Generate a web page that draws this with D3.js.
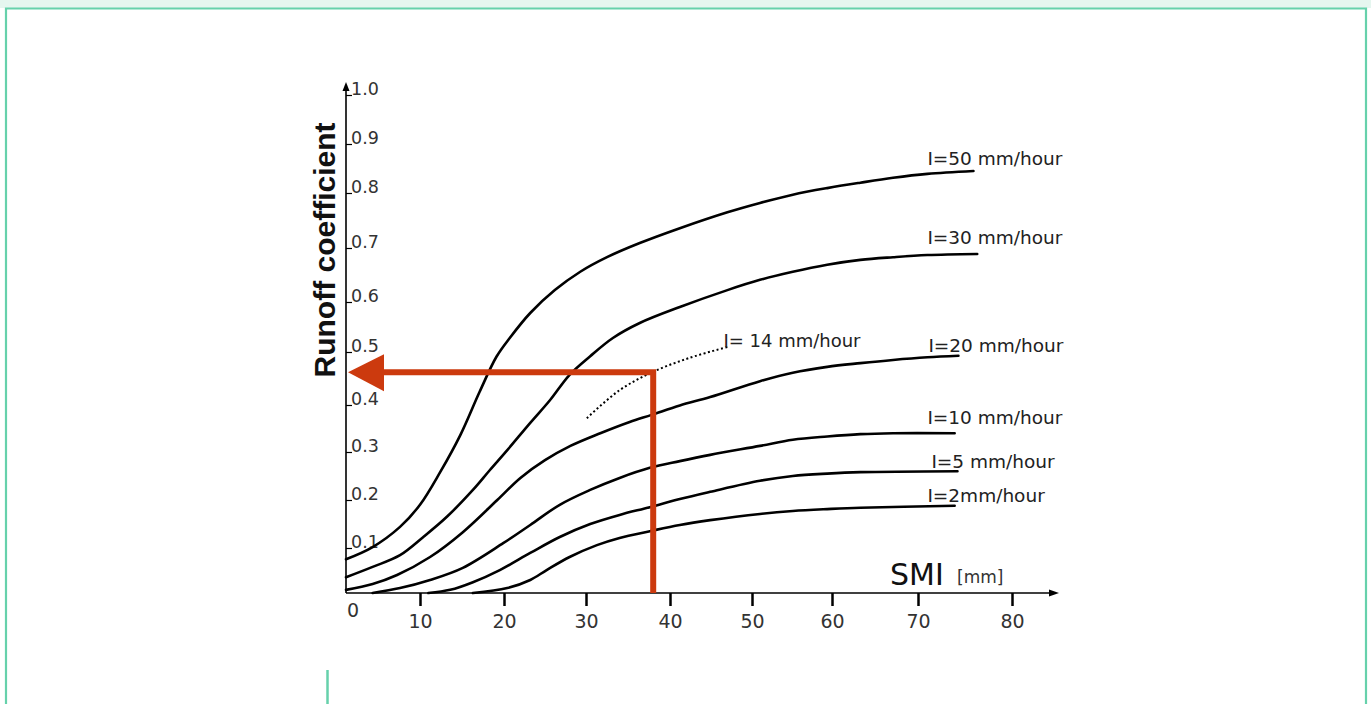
<!DOCTYPE html>
<html><head><meta charset="utf-8">
<script src="https://cdn.jsdelivr.net/npm/d3@7"></script>
<style>
html,body{margin:0;padding:0;background:#fff;overflow:hidden;}
svg{display:block;}
</style></head><body>
<svg id="chart" width="1371" height="704"></svg>
<script>
// ---------------- DATA ----------------
const xTickValues = [0, 10, 20, 30, 40, 50, 60, 70, 80];
const xTickLabels = ["0", "10", "20", "30", "40", "50", "60", "70", "80"];
const yTickValues = [0, 0.1, 0.2, 0.3, 0.4, 0.5, 0.6, 0.7, 0.8, 0.9, 1.0];
const yTickLabels = ["", "0.1", "0.2", "0.3", "0.4", "0.5", "0.6", "0.7", "0.8", "0.9", "1.0"];

const i50Smi = [0, 3.6, 7.3, 10.0, 12.4, 14.8, 17.1, 19.1, 20.7, 23.2, 26.2, 29.3, 32.5, 36.4, 41.2, 47.0, 51.0, 55.1, 59.4, 63.3, 67.1, 71.0, 75.9];
const i50Coef = [0.075, 0.102, 0.144, 0.190, 0.258, 0.336, 0.425, 0.491, 0.528, 0.578, 0.622, 0.656, 0.683, 0.709, 0.736, 0.765, 0.782, 0.797, 0.810, 0.821, 0.831, 0.839, 0.845];

const i30Smi = [0, 3.6, 7.3, 10.4, 13.2, 16.3, 18.3, 20.4, 23.2, 25.6, 28.0, 30.5, 33.2, 36.4, 41.2, 47.0, 51.0, 55.1, 59.4, 63.3, 67.1, 71.0, 76.3];
const i30Coef = [0.035, 0.058, 0.084, 0.123, 0.165, 0.221, 0.262, 0.304, 0.362, 0.409, 0.457, 0.492, 0.528, 0.558, 0.590, 0.622, 0.641, 0.656, 0.669, 0.678, 0.683, 0.687, 0.689];

const i20Smi = [0, 3.6, 6.9, 11.2, 15.1, 19.2, 22.0, 25.0, 28.1, 31.7, 35.2, 37.8, 41.2, 44.9, 51.0, 55.1, 59.4, 63.3, 67.1, 71.0, 74.3];
const i20Coef = [0.007, 0.020, 0.040, 0.080, 0.133, 0.200, 0.246, 0.283, 0.313, 0.340, 0.364, 0.379, 0.399, 0.415, 0.445, 0.461, 0.472, 0.479, 0.485, 0.490, 0.493];

const i10Smi = [3.6, 7.3, 11.2, 15.1, 19.9, 23.2, 26.8, 30.5, 34.0, 37.6, 41.2, 44.9, 51.0, 55.1, 59.4, 63.3, 67.1, 73.9];
const i10Coef = [0, 0.011, 0.029, 0.056, 0.110, 0.148, 0.190, 0.221, 0.246, 0.267, 0.281, 0.294, 0.313, 0.326, 0.333, 0.338, 0.340, 0.340];

const i5Smi = [11.0, 13.6, 16.3, 19.5, 23.2, 26.8, 30.5, 34.0, 37.6, 41.2, 44.9, 51.0, 55.1, 59.4, 63.3, 74.2];
const i5Coef = [0, 0.007, 0.024, 0.051, 0.089, 0.123, 0.150, 0.169, 0.185, 0.202, 0.217, 0.240, 0.250, 0.255, 0.258, 0.260];

const i2Smi = [16.3, 20.4, 23.2, 25.2, 28.0, 31.3, 34.0, 37.6, 41.2, 44.9, 51.0, 55.1, 59.4, 63.3, 73.9];
const i2Coef = [0, 0.011, 0.029, 0.051, 0.080, 0.106, 0.121, 0.135, 0.148, 0.158, 0.171, 0.177, 0.181, 0.184, 0.188];

const i14Smi = [30.1, 34.0, 37.9, 42.4, 47.0];
const i14Coef = [0.372, 0.428, 0.462, 0.489, 0.510];

const seriesNames = ["I=50 mm/hour", "I=30 mm/hour", "I=20 mm/hour", "I=10 mm/hour", "I=5 mm/hour", "I=2mm/hour"];
const dottedName = "I= 14 mm/hour";

const readSmi = 38;
const readCoef = 0.462;

// ---------------- LAYOUT ----------------
const X_RANGE = [346, 420, 504, 586, 670, 752, 832, 918, 1012];
const Y_RANGE = [593, 548, 500, 452, 405, 352, 302, 248, 193, 144, 95];
const LABEL_DX = [0, 0, 1, 0, 4, 0];
const LABEL_DY = [-6, -10, -4, -9, -3, -4];
const FONT = "'DejaVu Sans', sans-serif";
const RED = "#cc3a0e";

const svg = d3.select("#chart");

// page frame (decorative)
svg.append("rect").attr("x", 0).attr("y", 0).attr("width", 1371).attr("height", 8).attr("fill", "#e5f6ef");
svg.append("path").attr("d", "M6,704 V8.5 H1366 V704").attr("fill", "none").attr("stroke", "#66d1ab").attr("stroke-width", 2.2);
svg.append("line").attr("x1", 327.5).attr("x2", 327.5).attr("y1", 670).attr("y2", 704).attr("stroke", "#66d1ab").attr("stroke-width", 2.5);

const x = d3.scaleLinear().domain(xTickValues).range(X_RANGE);
const y = d3.scaleLinear().domain(yTickValues).range(Y_RANGE);

// ---- axes ----
const x0 = x(0), y0 = y(0);
svg.append("line").attr("x1", x0).attr("x2", x0).attr("y1", y0).attr("y2", 88)
  .attr("stroke", "#000").attr("stroke-width", 1.6);
svg.append("path").attr("d", `M${x0},82 L${x0 - 3.5},91 L${x0 + 3.5},91 Z`).attr("fill", "#000");
svg.append("line").attr("x1", x0).attr("x2", 1050).attr("y1", y0).attr("y2", y0)
  .attr("stroke", "#000").attr("stroke-width", 1.6);
svg.append("path").attr("d", `M1059,${y0} L1049,${y0 - 3.5} L1049,${y0 + 3.5} Z`).attr("fill", "#000");

const xAxis = d3.axisBottom(x)
  .tickValues(xTickValues.slice(1))
  .tickSize(13)
  .tickFormat(d => xTickLabels[xTickValues.indexOf(d)]);
const gx = svg.append("g").attr("transform", `translate(0,${y0})`).call(xAxis);
gx.select(".domain").remove();
gx.selectAll(".tick line").attr("stroke", "#000").attr("stroke-width", 2.5);
gx.selectAll(".tick text").attr("y", 35).attr("dy", 0)
  .attr("font-family", FONT).attr("font-size", 19).attr("fill", "#333");
svg.append("text").attr("x", x0 + 1).attr("y", 617).attr("font-family", FONT)
  .attr("font-size", 19).attr("fill", "#333").text(xTickLabels[0]);

const yAxis = d3.axisRight(y)
  .tickValues(yTickValues.slice(1))
  .tickSize(6)
  .tickFormat(d => yTickLabels[yTickValues.indexOf(d)]);
const gy = svg.append("g").attr("transform", `translate(${x0},0)`).call(yAxis);
gy.select(".domain").remove();
gy.selectAll(".tick line").attr("stroke", "#000").attr("stroke-width", 1.2);
gy.selectAll(".tick text").attr("x", 5).attr("y", -1).attr("dy", 0)
  .attr("text-anchor", "start")
  .attr("font-family", FONT).attr("font-size", 17.5).attr("fill", "#333");

svg.append("text").attr("x", 890).attr("y", 585).attr("font-family", FONT)
  .attr("font-size", 30).attr("fill", "#111").text("SMI");
svg.append("text").attr("x", 957).attr("y", 583).attr("font-family", FONT)
  .attr("font-size", 17).attr("fill", "#333").text("[mm]");
svg.append("text").attr("transform", "translate(335,250) rotate(-90)")
  .attr("text-anchor", "middle").attr("font-family", "'Liberation Sans', Arial, sans-serif")
  .attr("font-weight", "bold").attr("font-size", 30).attr("fill", "#111")
  .text("Runoff coefficient");

// ---- curves ----
const line = d3.line().x(d => x(d[0])).y(d => y(d[1])).curve(d3.curveCatmullRom.alpha(0.5));
const zip = (a, b) => a.map((v, i) => [v, b[i]]);
const series = [
  zip(i50Smi, i50Coef), zip(i30Smi, i30Coef), zip(i20Smi, i20Coef),
  zip(i10Smi, i10Coef), zip(i5Smi, i5Coef), zip(i2Smi, i2Coef)
];

svg.append("g").selectAll("path").data(series).join("path")
  .attr("d", line).attr("fill", "none").attr("stroke", "#000")
  .attr("stroke-width", 2.6).attr("stroke-linecap", "round");

svg.append("g").selectAll("text").data(series).join("text")
  .attr("x", (d, i) => x(71) + LABEL_DX[i])
  .attr("y", (d, i) => y(d[d.length - 1][1]) + LABEL_DY[i])
  .attr("font-family", FONT).attr("font-size", 18.5).attr("fill", "#222")
  .text((d, i) => seriesNames[i]);

const dotted = zip(i14Smi, i14Coef);
svg.append("path").datum(dotted).attr("d", line).attr("fill", "none")
  .attr("stroke", "#000").attr("stroke-width", 2).attr("stroke-dasharray", "2,2.5");
svg.append("text").attr("x", x(i14Smi[i14Smi.length - 1]) - 4)
  .attr("y", y(i14Coef[i14Coef.length - 1]))
  .attr("font-family", FONT).attr("font-size", 18).attr("fill", "#222").text(dottedName);

// ---- red reading arrow ----
const rx = x(readSmi), ry = y(readCoef);
svg.append("path")
  .attr("d", `M${x0 + 34},${ry} L${rx},${ry} L${rx},${y0}`)
  .attr("fill", "none").attr("stroke", RED).attr("stroke-width", 6)
  .attr("stroke-linejoin", "miter");
svg.append("path")
  .attr("d", `M${x0 + 2},${ry} L${x0 + 38},${ry - 18} L${x0 + 38},${ry + 19} Z`)
  .attr("fill", RED);
</script>
</body></html>
